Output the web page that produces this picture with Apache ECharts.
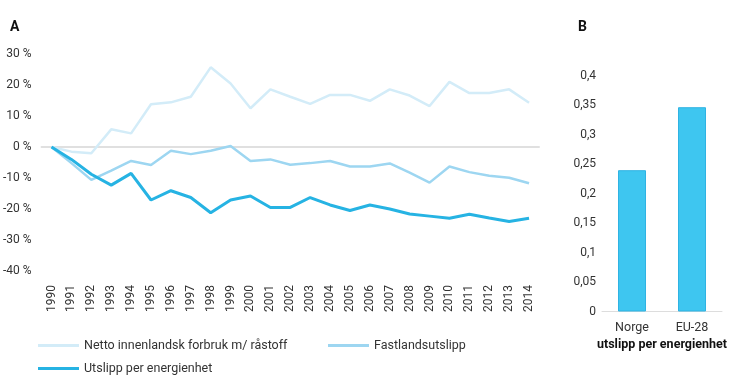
<!DOCTYPE html>
<html><head><meta charset="utf-8">
<script src="https://cdn.jsdelivr.net/npm/echarts@6/dist/echarts.min.js"></script>
<style>html,body{margin:0;padding:0;background:#fff}#c{width:730px;height:386px}</style>
</head><body><div id="c"></div>
<script>
const years = ['1990','1991','1992','1993','1994','1995','1996','1997','1998','1999','2000','2001','2002','2003','2004','2005','2006','2007','2008','2009','2010','2011','2012','2013','2014'];
const netto = [0,-1.5,-2,5.7,4.4,13.8,14.4,16.2,25.7,20.5,12.5,18.6,16.2,13.9,16.8,16.8,14.9,18.6,16.6,13.2,21,17.4,17.4,18.6,14.3];
const fastland = [0,-5.2,-10.6,-7.6,-4.5,-5.8,-1.2,-2.3,-1.2,0.3,-4.5,-4,-5.7,-5.2,-4.5,-6.3,-6.3,-5.3,-8.3,-11.5,-6.3,-8.1,-9.3,-9.9,-11.7];
const utslipp = [0,-4,-8.8,-12.3,-8.5,-17.1,-14.1,-16.3,-21.2,-17.1,-15.8,-19.5,-19.5,-16.3,-18.7,-20.5,-18.7,-20,-21.6,-22.3,-23,-21.7,-22.9,-24,-23];
const barCats = ['Norge','EU-28'];
const barVals = [0.24,0.347];
const names = ['Netto innenlandsk forbruk m/ råstoff','Fastlandsutslipp','Utslipp per energienhet'];
const colors = ['#d3ecf8','#9dd6f1','#26b3e3'];

const F = 'Roboto, "DejaVu Sans", sans-serif';
const chart = echarts.init(document.getElementById('c'));
const lineSeries = [netto, fastland, utslipp].map((d,i)=>({
  name: names[i], type:'line', data:d, xAxisIndex:0, yAxisIndex:0,
  symbol:'none', z: 3+i,
  lineStyle:{color:colors[i], width: i===2?3:2.5},
  itemStyle:{color:colors[i]}
}));

const legendBase = {orient:'horizontal', itemWidth:41, itemHeight:3, icon:'rect', itemGap:8,
  textStyle:{fontFamily:F, fontSize:12.5, color:'#333'}, selectedMode:false};
chart.setOption({
  animation:false,
  textStyle:{fontFamily:F},
  title:[
    {text:'A', left:5, top:15, textStyle:{fontFamily:F, fontSize:14, fontWeight:'bold', color:'#111'}},
    {text:'B', left:573, top:15, textStyle:{fontFamily:F, fontSize:14, fontWeight:'bold', color:'#111'}},
    {text:'utslipp per energienhet', left:657, textAlign:'center', top:333, textStyle:{fontFamily:F, fontSize:12.5, fontWeight:'bold', color:'#111'}}
  ],
  legend:[
    Object.assign({}, legendBase, {data:[names[0]], left:33, top:334}),
    Object.assign({}, legendBase, {data:[names[1]], left:323, top:334}),
    Object.assign({}, legendBase, {data:[names[2]], left:33, top:357})
  ],
  grid:[
    {left:39, width:500, top:54, bottom:115},
    {left:602, width:120, top:76, bottom:74.5}
  ],
  xAxis:[
    {type:'category', gridIndex:0, data:years, boundaryGap:true,
     axisLine:{show:false, onZero:false}, axisTick:{show:false},
     axisLabel:{rotate:90, margin:14, fontFamily:F, fontSize:12, color:'#333', interval:0}},
    {type:'category', gridIndex:1, data:barCats,
     axisLine:{lineStyle:{color:'#dddddd', width:1}}, axisTick:{show:false},
     axisLabel:{margin:10, fontFamily:F, fontSize:12.5, color:'#333'}},
    {type:'category', gridIndex:0, data:years, position:'bottom',
     axisLine:{show:true, onZero:true, lineStyle:{color:'#e0e0e0', width:2}},
     axisTick:{show:false}, axisLabel:{show:false}, splitLine:{show:false}}
  ],
  yAxis:[
    {type:'value', gridIndex:0, min:-40, max:30, interval:10,
     axisLine:{show:false}, axisTick:{show:false}, splitLine:{show:false},
     axisLabel:{margin:10, fontFamily:F, fontSize:12, color:'#333', formatter:v=>v+' %'}},
    {type:'value', gridIndex:1, min:0, max:0.4, interval:0.05,
     axisLine:{show:false}, axisTick:{show:false}, splitLine:{show:false},
     axisLabel:{margin:6, fontFamily:F, fontSize:12, color:'#333',
       formatter:v=>String(Math.round(v*100)/100).replace('.',',')}}
  ],
  series: lineSeries.concat([{
    type:'bar', xAxisIndex:1, yAxisIndex:1, data:barVals, barWidth:28,
    itemStyle:{color:'#3ec6f0', borderColor:'#2fb3e3', borderWidth:1}
  }])
});
</script></body></html>
